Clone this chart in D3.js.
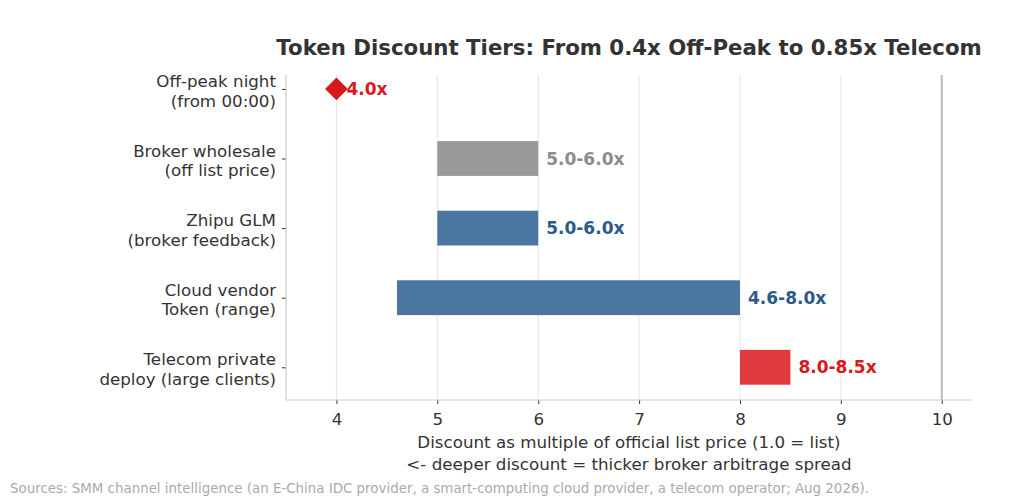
<!DOCTYPE html>
<html>
<head>
<meta charset="utf-8">
<script src="https://cdn.jsdelivr.net/npm/d3@7"></script>
<style>
  body { margin: 0; background: #fff; }
  svg text { font-family: "DejaVu Sans", sans-serif; }
</style>
</head>
<body>
<div id="chart"></div>
<script>
// chart data
var tiers = [
  ["Off-peak night", "(from 00:00)"],
  ["Broker wholesale", "(off list price)"],
  ["Zhipu GLM", "(broker feedback)"],
  ["Cloud vendor", "Token (range)"],
  ["Telecom private", "deploy (large clients)"]
];
var lows = [4.0, 5.0, 5.0, 4.6, 8.0];
var highs = [4.0, 6.0, 6.0, 8.0, 8.5];
var labels = ["4.0x", "5.0-6.0x", "5.0-6.0x", "4.6-8.0x", "8.0-8.5x"];
var kinds = ["point", "bar", "bar", "bar", "bar"];
var xTicks = [4, 5, 6, 7, 8, 9, 10];
var listLine = 10;

var fills = ["#d7191c", "#999999", "#4a76a0", "#4a76a0", "#e0393f"];
var textColors = ["#d7191c", "#8c8c8c", "#2b5a8c", "#2b5a8c", "#d7191c"];

var w = 1024, h = 500;
var plotL = 286, plotR = 972, plotT = 75, plotB = 400;

var svg = d3.select("#chart").append("svg").attr("width", w).attr("height", h);

var x = d3.scaleLinear().domain([3.5, 10.3]).range([plotL, plotR]);
var y = d3.scaleLinear().domain([-0.2, 4.47]).range([plotT, plotB]);
var barH = y(0.5) - y(0);

// grid
svg.append("g").selectAll("line")
  .data(xTicks)
  .enter()
  .append("line")
    .attr("x1", function(d) { return x(d); })
    .attr("x2", function(d) { return x(d); })
    .attr("y1", plotT)
    .attr("y2", plotB)
    .style("stroke", "#e5e5e5")
    .style("stroke-width", 1);

// list price reference line
svg.append("line")
  .attr("x1", x(listLine)).attr("x2", x(listLine))
  .attr("y1", plotT).attr("y2", plotB)
  .style("stroke", "#bbbbbb")
  .style("stroke-width", 2);

// bars
var rows = d3.range(tiers.length);
svg.append("g").selectAll("rect")
  .data(rows.filter(function(i) { return kinds[i] === "bar"; }))
  .enter()
  .append("rect")
    .attr("x", function(i) { return x(lows[i]); })
    .attr("width", function(i) { return x(highs[i]) - x(lows[i]); })
    .attr("y", function(i) { return y(i) - barH / 2; })
    .attr("height", barH)
    .style("fill", function(i) { return fills[i]; });

// diamond point
svg.append("g").selectAll("path")
  .data(rows.filter(function(i) { return kinds[i] === "point"; }))
  .enter()
  .append("path")
    .attr("d", d3.symbol().type(d3.symbolDiamond2).size(330))
    .attr("transform", function(i) { return "translate(" + x(lows[i]) + "," + y(i) + ")"; })
    .style("fill", function(i) { return fills[i]; });

// value labels
svg.append("g").selectAll("text")
  .data(rows)
  .enter()
  .append("text")
    .attr("x", function(i) { return x(highs[i]) + (kinds[i] === "point" ? 10 : 8); })
    .attr("y", function(i) { return y(i); })
    .attr("dy", "0.36em")
    .style("font-size", "17px")
    .style("font-weight", "bold")
    .style("fill", function(i) { return textColors[i]; })
    .text(function(i) { return labels[i]; });

// axes
var xAxis = d3.axisBottom(x).tickValues(xTicks).tickSize(4).tickPadding(9).tickFormat(d3.format("d"));
var gx = svg.append("g").attr("transform", "translate(0," + plotB + ")").call(xAxis);
gx.select(".domain").remove();
gx.append("line").attr("x1", plotL).attr("x2", plotR).style("stroke", "#cccccc").style("stroke-width", 1.2);
gx.selectAll(".tick line").style("stroke", "#333");
gx.selectAll(".tick text").style("font-size", "16.7px").style("fill", "#333").style("font-family", "DejaVu Sans, sans-serif");

var yAxis = d3.axisLeft(y).tickValues(rows).tickSize(4).tickFormat("");
var gy = svg.append("g").attr("transform", "translate(" + plotL + ",0)").call(yAxis);
gy.select(".domain").remove();
gy.append("line").attr("y1", plotT).attr("y2", plotB).style("stroke", "#cccccc").style("stroke-width", 1.2);
gy.selectAll(".tick line").style("stroke", "#333");

// category labels, two lines each
var cat = svg.append("g").selectAll("text")
  .data(rows)
  .enter()
  .append("text")
    .attr("text-anchor", "end")
    .attr("x", plotL - 10)
    .attr("y", function(i) { return y(i); })
    .style("font-size", "16.7px")
    .style("fill", "#333");
cat.append("tspan")
  .attr("x", plotL - 10).attr("dy", "-0.12em")
  .text(function(i) { return tiers[i][0]; });
cat.append("tspan")
  .attr("x", plotL - 10).attr("dy", "1.18em")
  .text(function(i) { return tiers[i][1]; });

// title
svg.append("text")
  .attr("x", (plotL + plotR) / 2)
  .attr("y", 55)
  .attr("text-anchor", "middle")
  .style("font-size", "21.3px")
  .style("font-weight", "bold")
  .style("fill", "#333")
  .text("Token Discount Tiers: From 0.4x Off-Peak to 0.85x Telecom");

// x label
var xl = svg.append("text")
  .attr("text-anchor", "middle")
  .attr("x", (plotL + plotR) / 2)
  .attr("y", 448)
  .style("font-size", "16.7px")
  .style("fill", "#333");
xl.append("tspan").attr("x", (plotL + plotR) / 2).text("Discount as multiple of official list price (1.0 = list)");
xl.append("tspan").attr("x", (plotL + plotR) / 2).attr("dy", "1.32em").text("<- deeper discount = thicker broker arbitrage spread");

// source
svg.append("text")
  .attr("x", 10)
  .attr("y", 493)
  .style("font-size", "13.4px")
  .style("fill", "#aaaaaa")
  .text("Sources: SMM channel intelligence (an E-China IDC provider, a smart-computing cloud provider, a telecom operator; Aug 2026).");
</script>
</body>
</html>
